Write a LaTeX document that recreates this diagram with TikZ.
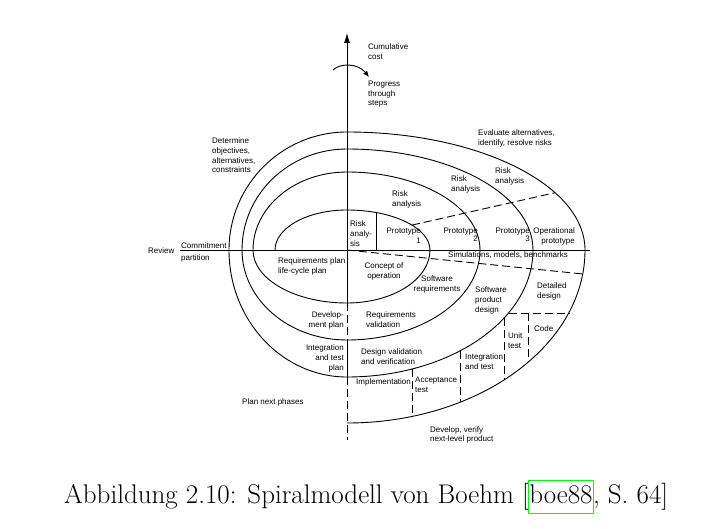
\documentclass[tikz,border=0pt]{standalone}
\usepackage{fontspec}
\newfontfamily\lab{Liberation Sans}
\usetikzlibrary{arrows.meta}
\definecolor{linkgreen}{rgb}{0,1,0}
\tikzset{
  lbl/.style={font=\lab\fontsize{8}{9.6}\selectfont, inner sep=0pt, align=left},
  lblr/.style={lbl, align=right},
  lblc/.style={lbl, align=center},
  curve/.style={line width=0.9pt},
  dsh/.style={line width=0.9pt, dash pattern=on 8pt off 4pt},
  capt/.style={font=\fontsize{27}{32}\selectfont, inner sep=0pt, anchor=base west}
}
\begin{document}
\begin{tikzpicture}[x=1pt,y=-1pt]
\useasboundingbox (0,0) rectangle (706,529);
\fill[white] (0,0) rectangle (706,529);

% axes
\coordinate (O) at (347,250);
\coordinate (top) at (347,33);
\coordinate (hl) at (180,250);
\coordinate (hr) at (590,250);
\coordinate (b1) at (347,303);
\coordinate (b2) at (347,340);
\coordinate (b3) at (347,377);
\coordinate (bend) at (347,440);
\draw[curve] (hl) -- (hr);
\draw[curve,-{Latex[length=10pt,width=6pt]}] (O) -- (top);
\draw[curve] (O) -- (b1);
\draw[dsh] (b1) -- (b2);
\draw[curve] (b2) -- (b3);
\draw[dsh] (b3) -- (bend);

% progress arrow
\coordinate (pa) at (333,70);
\coordinate (pb) at (369,77);
\draw[curve,-{Latex[length=6pt,width=5pt]}] (pa) .. controls (340,63) and (358,63) .. (pb);

% spiral
\draw[curve] (275,250) .. controls (275,227.9) and (307.3,210) .. (347,210)
 .. controls (392.8,210) and (430,227.9) .. (430,250)
 .. controls (430,279.3) and (392.8,303) .. (347,303)
 .. controls (295.1,303) and (253,279.3) .. (253,250)
 .. controls (253,206.9) and (295.1,172) .. (347,172)
 .. controls (420.4,172) and (480,206.9) .. (480,250)
 .. controls (480,299.7) and (420.4,340) .. (347,340)
 .. controls (289.0,340) and (242,299.7) .. (242,250)
 .. controls (242,194.2) and (289.0,149) .. (347,149)
 .. controls (449.7,149) and (533,194.2) .. (533,250)
 .. controls (533,320.1) and (449.7,377) .. (347,377)
 .. controls (281.9,377) and (229,320.1) .. (229,250)
 .. controls (229,184.9) and (281.9,132) .. (347,132)
 .. controls (478.4,132) and (585,184.9) .. (585,250)
 .. controls (585,345.5) and (478.4,423) .. (347,423);

% partition lines
\coordinate (r1t) at (376,212.5);
\coordinate (r1b) at (376,250);
\draw[curve] (r1t) -- (r1b);
\coordinate (d1a) at (412,225.1);
\coordinate (d1b) at (555,192.7);
\draw[dsh] (d1a) -- (d1b);
\coordinate (d2a) at (347,250);
\coordinate (d2b) at (583,274);
\draw[dsh] (d2a) -- (d2b);
\coordinate (h3a) at (508.5,313);
\coordinate (h3b) at (568.7,313);
\draw[dsh] (h3a) -- (h3b);
\coordinate (v1a) at (528,313);
\coordinate (v1b) at (528,362.3);
\draw[dsh] (v1a) -- (v1b);
\coordinate (v2a) at (504,318.1);
\coordinate (v2b) at (504,380);
\draw[dsh] (v2a) -- (v2b);
\coordinate (v3a) at (460,350.9);
\coordinate (v3b) at (460,402.3);
\draw[dsh] (v3a) -- (v3b);
\coordinate (v4a) at (412,369);
\coordinate (v4b) at (412,416.4);
\draw[dsh] (v4a) -- (v4b);

% labels
\node[lbl,anchor=north west] (cum) at (368,44) {Cumulative\\cost};
\node[lbl,anchor=north west] (prog) at (368,81) {Progress\\through\\steps};
\node[lbl,anchor=north west] (det) at (212,138) {Determine\\objectives,\\alternatives,\\constraints};
\node[lbl,anchor=north west] (eval) at (478,130) {Evaluate alternatives,\\identify, resolve risks};
\node[lbl,anchor=north west] (risk4) at (495,168) {Risk\\analysis};
\node[lbl,anchor=north west] (risk3) at (451,176) {Risk\\analysis};
\node[lbl,anchor=north west] (risk2) at (392,191) {Risk\\analysis};
\node[lbl,anchor=north west] (risk1) at (350,221) {Risk\\analy-\\sis};
\node[lblr,anchor=north east] (p1) at (421,228) {Prototype\\1};
\node[lblr,anchor=north east,font=\lab\fontsize{8}{8}\selectfont] (p2) at (478,228) {Prototype\\2};
\node[lblr,anchor=north east,font=\lab\fontsize{8}{8}\selectfont] (p3) at (530,228) {Prototype\\3};
\node[lblr,anchor=north east] (op) at (575,228) {Operational\\prototype};
\node[lbl,anchor=north] (sim) at (508,252) {Simulations, models, benchmarks};
\node[lbl,anchor=north west] (rplan) at (278,258) {Requirements plan\\life-cycle plan};
\node[lblc,anchor=north] (conc) at (384,263) {Concept of\\operation};
\node[lblc,anchor=north] (swreq) at (437,276) {Software\\requirements};
\node[lbl,anchor=north west] (swprod) at (475,287) {Software\\product\\design};
\node[lbl,anchor=north west] (detd) at (537,283) {Detailed\\design};
\node[lbl,anchor=north west] (code) at (534,326) {Code};
\node[lbl,anchor=north west] (unit) at (508,333) {Unit\\test};
\node[lbl,anchor=north west] (integ) at (465,354) {Integration\\and test};
\node[lbl,anchor=north west] (acc) at (415,377) {Acceptance\\test};
\node[lbl,anchor=north west] (impl) at (356,379) {Implementation};
\node[lbl,anchor=north west] (devv) at (430,426) {Develop, verify\\next-level product};
\node[lbl,anchor=north west] (desv) at (361,349) {Design validation\\and verification};
\node[lbl,anchor=north west] (reqv) at (366,312) {Requirements\\validation};
\node[lblr,anchor=north east] (devp) at (344,312) {Develop-\\ment plan};
\node[lblr,anchor=north east] (itp) at (344,345) {Integration\\and test\\plan};
\node[lbl,anchor=north west] (pnp) at (242,399) {Plan next phases};
\node[lbl,anchor=north west] (rev) at (148,248) {Review};
\node[lbl,anchor=north west] (com) at (181,243) {Commitment};
\node[lbl,anchor=north west] (part) at (181,255) {partition};

% caption
\node[capt] (c1) at (64,503) {Abbildung 2.10: Spiralmodell von Boehm [};
\node[capt] (c2) at (c1.base east) {boe88};
\node[capt] (c3) at (c2.base east) {, S. 64]};
\draw[linkgreen,line width=0.8pt] ([xshift=-1pt,yshift=23pt]c2.base west) rectangle ([xshift=1pt,yshift=-10pt]c2.base east);
\end{tikzpicture}
\end{document}
